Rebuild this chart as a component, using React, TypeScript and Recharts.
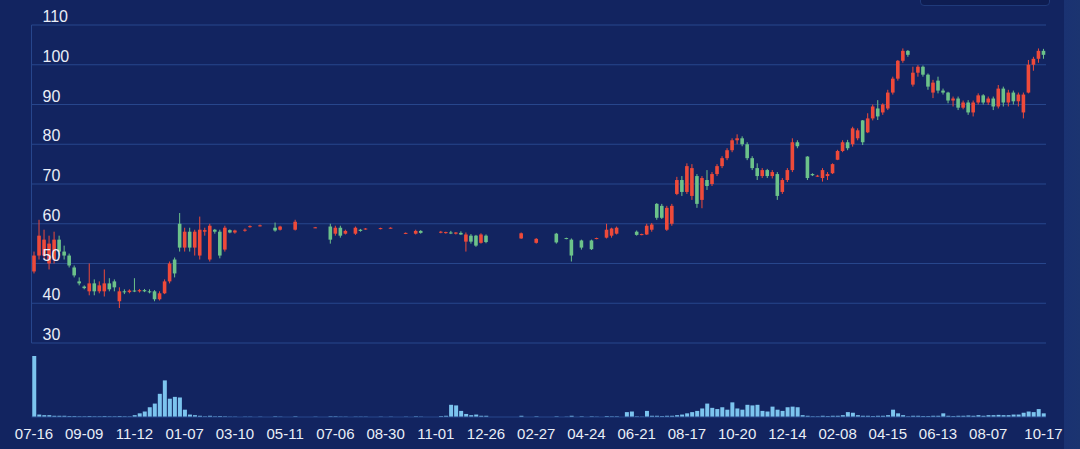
import React from "react";
import { ComposedChart, BarChart, Bar, XAxis, YAxis, CartesianGrid } from "recharts";

// x-axis labels and the candle index each one sits on
const tickIndex = [0, 10, 20, 30, 40, 50, 60, 70, 80, 90, 100, 110, 120, 130, 140, 150, 160, 170, 180, 190, 201];
const tickLabels = [
  "07-16", "09-09", "11-12", "01-07", "03-10", "05-11", "07-06", "08-30", "11-01", "12-26", "02-27",
  "04-24", "06-21", "08-17", "10-20", "12-14", "02-08", "04-15", "06-13", "08-07", "10-17",
];
const priceTicks = [30, 40, 50, 60, 70, 80, 90, 100, 110];

// OHLC, one entry per candle (null = no trade shown)
const opens = [
  48, 52, 52, 50, 51, 56, 53, 52, 49, 45.5,
  44.2, 43, 45, 43, 43, 45, 45.5, 40.5, 43, 42.8,
  43.2, 43, 43.3, 43, 43, 41, 42.5, 45.5, 51, 60,
  54, 58, 54, 52, 58, 51, 58.5, 58, 53.5, 58.4,
  57.8, null, 58.3, 59.3, null, 59.5, null, null, 59, 58.5,
  null, null, 58.5, null, null, null, 59, null, null, 59.3,
  57.5, 59, 57.5, null, 57.5, 58.5, 58.7, null, null, 58.8,
  null, 58.9, null, null, 57.6, null, 57.5, 58.2, null, null,
  null, 57.8, 57.7, 57.8, 57.5, 57.7, 55.5, 57, 57, 55.2,
  57, null, null, null, null, null, null, 56.3, null, null,
  55.2, null, null, null, 57.5, null, 56.4, 56, null, 55.8,
  null, 55.8, 56.3, null, 56.5, 57, 57.5, null, null, null,
  58, 57.3, 57.3, 58.5, 65, 64.5, 58.5, 60, 67.5, 71,
  68, 67, 72, 66, 71, 70, 72.5, 74.5, 76.5, 78.5,
  81, 81.5, 80, 76.5, 74, 72, 73.5, 72, 72.5, 68,
  71, 73.5, 80.5, null, 76.9, 72.5, 72, 71.5, 72, 72.7,
  76.1, 78.3, 80.5, 80, 81.5, 86, 83, 86.5, 89, 88,
  89, 93, 96.5, 101, 103.5, 95, 98, 99.5, 97.5, 93,
  96, 93.5, 93, 91, 91.5, 89.2, 90.5, 88, 90.5, 92.3,
  90.5, 91.5, 89.5, 94, 90.5, 93, 90.8, 88, 93, 100,
  101.5, 103.5,
];
const highs = [
  53, 61, 58.5, 57, 58, 57, 54.5, 52.5, 49.5, 46.5,
  44.5, 50, 46, 45.5, 48.5, 46.3, 46, 44, 43.5, 43.5,
  46.3, 43.6, 43.6, 43.5, 43.3, 43, 46, 50.5, 51.5, 62.7,
  59, 59, 58.5, 61.8, 59, 60, 58.7, 58.5, 59.5, 58.6,
  58.5, null, 58.8, 59.6, null, 59.8, null, null, 60.3, 59.5,
  null, null, 61, null, null, null, 59.2, null, null, 60,
  59.5, 59.5, 58.5, null, 59.3, 58.7, 58.9, null, null, 59,
  null, 59.1, null, null, 57.8, null, 58.5, 58.4, null, null,
  null, 58.2, 58, 58.2, 57.9, 58.1, 57.8, 57.4, 57.2, 57.6,
  57.3, null, null, null, null, null, null, 57.8, null, null,
  56.4, null, null, null, 57.7, null, 56.5, 56.3, null, 56,
  null, 56, 56.5, null, 60, 59, 59.3, null, null, null,
  58.3, 57.5, 60, 60.2, 65.2, 65, 64.5, 65, 71.8, 72,
  75.2, 75, 72.5, 72, 73.5, 73, 75, 77, 79, 81.5,
  82.5, 82, 80.5, 77, 75.2, 74, 73.8, 73.5, 73, 71.5,
  74, 81.5, 81, null, 77, 72.7, 72.3, 74, 73, 75.2,
  78.6, 81, 81.1, 84.4, 84, 86.1, 87.8, 90, 91.1, 90.3,
  93.7, 97, 101.2, 104.1, 103.7, 99.5, 99.9, 99.8, 97.8, 96.2,
  97, 94, 93.2, 92, 92, 91, 91.1, 91, 92.8, 92.6,
  92, 92, 94.9, 94.5, 93.7, 93.5, 93, 93, 101.2, 102,
  104.1, 104,
];
const lows = [
  47.5, 51, 51, 48.5, 50, 52, 51, 49, 46.5, 44.5,
  43.5, 42, 42, 42.5, 41.7, 43, 43, 38.8, 42.3, 42.5,
  42.8, 42.7, 42.8, 42.5, 40.5, 40.7, 42.3, 45, 46.5, 53,
  53, 53, 52, 51, 57, 50.5, 57.5, 51.3, 53, 57.6,
  57.5, null, 58, 59, null, 59.3, null, null, 58, 58.3,
  null, null, 58.3, null, null, null, 58.9, null, null, 55,
  57, 56.5, 57.3, null, 57.2, 58, 58.5, null, null, 58.6,
  null, 58.8, null, null, 57.4, null, 57.3, 57.5, null, null,
  null, 57.6, 57.5, 57.4, 57.3, 57.2, 53, 55, 54.2, 55,
  55.1, null, null, null, null, null, null, 56.2, null, null,
  55, null, null, null, 55, null, 56.1, 50.5, null, 53.5,
  null, 53.4, 56.1, null, 56.3, 56.5, 57.3, null, null, null,
  57, 57.1, 57.2, 58, 61, 61.2, 58.2, 59.5, 67.2, 67,
  67.5, 66, 64, 63.9, 68.5, 69.5, 72, 74, 76, 78,
  80, 79.5, 76, 73.5, 71, 71.5, 71.5, 71.4, 66, 67.5,
  70.5, 73, 79, null, 71, 72, 71.8, 70.6, 71, 72.5,
  76, 78, 78.5, 79.4, 81, 79.8, 82.8, 86, 86.1, 87.4,
  88.6, 92.5, 96, 100.5, 102, 94.5, 97, 97, 93.7, 91.6,
  92.8, 92.5, 90.3, 89.5, 88.6, 88.8, 87.4, 87, 90, 90,
  89.9, 88.6, 89, 89.5, 89.5, 90, 89.5, 86.5, 92.8, 98.5,
  100.5, 101.5,
];
const closes = [
  52, 57, 56, 55, 56, 53, 52, 49.5, 47, 45,
  43.8, 45, 43, 44.5, 45, 43.5, 44, 43, 42.8, 43.2,
  43, 43.3, 43, 42.8, 41, 42.5, 45.5, 50, 47.5, 54,
  58, 54, 58, 58.5, 58.4, 59.5, 58, 52, 59, 57.8,
  58.3, null, 58.5, 59.4, null, 59.6, null, null, 58.3, 59.3,
  null, null, 60.5, null, null, null, 59.1, null, null, 56,
  59, 57, 58.2, null, 59, 58.2, 58.8, null, null, 58.9,
  null, 59, null, null, 57.7, null, 58.2, 57.7, null, null,
  null, 58, 57.9, 57.6, 57.8, 57.3, 57.3, 55.5, 54.5, 57.3,
  55.4, null, null, null, null, null, null, 57.6, null, null,
  56.2, null, null, null, 55.3, null, 56.2, 52, null, 54,
  null, 53.6, 56.4, null, 58.5, 58.8, 59, null, null, null,
  57.2, 57.4, 59.5, 59.8, 61.5, 61.5, 64, 64.5, 71, 68,
  74.5, 74, 65, 71.5, 69.5, 72.5, 74.5, 76.5, 78.5, 81,
  81.5, 80, 76.5, 74, 72, 73.5, 72, 73, 67, 71,
  73.5, 80.5, 79.5, null, 71.5, 72.2, 72.1, 73.5, 72.5, 75,
  78.3, 80.5, 79, 84, 83.5, 80.5, 86.5, 89.5, 87, 90,
  93, 96.5, 101, 103.5, 102.5, 98, 99.5, 97.5, 94.5, 95.5,
  93.5, 93, 91, 91.5, 89.2, 90.5, 88, 90.5, 92.3, 90.5,
  91.5, 89.5, 94, 90.5, 93, 90.8, 92.5, 92.5, 100, 101.5,
  103.5, 102.5,
];
const volumes = [
  100, 4, 3, 3, 2, 2, 2, 1.5, 1.5, 1,
  1, 1.5, 1, 1, 1.5, 1, 1, 1.5, 1, 1,
  3, 6, 9, 16, 22, 38, 60, 30, 33, 32,
  12, 4, 3, 2, 1, 2, 1, 1.5, 1, 0.5,
  0.5, 0, 0.5, 0.5, 0, 0.5, 0, 0, 1, 0.5,
  0, 0, 1, 0, 0, 0, 0.5, 0, 0, 1,
  1, 0.5, 0.5, 0, 0.5, 0.5, 0.5, 0, 0, 0.5,
  0, 0.5, 0, 0, 0.5, 0, 1, 0.5, 0, 0,
  0, 1.5, 2, 20, 19, 10, 5, 3, 4, 2,
  2, 0, 0, 0, 0, 0, 0, 2, 0, 0,
  1, 0, 0, 0, 1, 0, 0.5, 2, 0, 1,
  0, 1, 0.5, 0, 1.5, 1, 1, 0, 8, 9,
  1, 0.5, 10, 2, 2, 1.5, 2, 2, 3, 4,
  6, 8, 10, 14, 22, 15, 13, 16, 12, 24,
  14, 12, 20, 19, 20, 10, 9, 17, 12, 10,
  16, 17, 16, 3, 2, 1, 1, 2, 1.5, 2,
  2, 3, 8, 7, 3, 2, 2, 1.5, 2, 2,
  3, 12, 6, 3, 1, 2, 2, 1.5, 1.5, 2,
  2, 6, 2, 1.5, 2, 2, 2.5, 2, 3, 2,
  3, 3, 3.5, 3, 3, 4, 4, 7, 9, 8,
  13, 6,
];

const BG = "#122460";
const GRID = "#27468c";
const TEXT = "#e9eef7";
const UP = "#ee4a3a";
const DOWN = "#6cc28a";
const VOL = "#7cc4ee";
const FONT = "'Liberation Sans', Arial, sans-serif";

const rows = opens.map((o, i) => ({ i, o, h: highs[i], l: lows[i], c: closes[i], v: volumes[i] }));

function Candle(props: any) {
  const { x, y, width, height, payload } = props;
  if (payload == null || payload.o == null) return null;
  const { o, h, l, c } = payload;
  const top = height < 0 ? y + height : y;
  const span = Math.abs(height);
  const k = h > l ? span / (h - l) : 0;
  const yo = top + (h - o) * k;
  const yc = top + (h - c) * k;
  const color = c >= o ? UP : DOWN;
  const cx = x + width / 2;
  const bw = 3.6;
  return (
    <g>
      <line x1={cx} x2={cx} y1={top} y2={top + Math.max(span, 1)} stroke={color} strokeWidth={1} />
      <rect x={cx - bw / 2} y={Math.min(yo, yc)} width={bw} height={Math.max(1, Math.abs(yo - yc))} fill={color} />
    </g>
  );
}

function PriceTick(props: any) {
  const { x, y, payload } = props;
  return (
    <text x={x + 3} y={y - 3} fill={TEXT} fontSize={16} fontFamily={FONT} textAnchor="start">
      {payload.value}
    </text>
  );
}

function DateTick(props: any) {
  const { x, y, payload } = props;
  const k = tickIndex.indexOf(payload.value);
  return (
    <text x={x} y={y + 14} fill={TEXT} fontSize={15} fontFamily={FONT} textAnchor="middle">
      {k >= 0 ? tickLabels[k] : ""}
    </text>
  );
}

export default function App() {
  return (
    <div style={{ position: "fixed", left: 0, top: 0, width: 1080, height: 449, background: BG, overflow: "hidden" }}>
      <div style={{ position: "absolute", left: 920, top: -6, width: 128, height: 10, borderRadius: 4, background: "#0e1d52", border: "1px solid #1f3a7a" }} />
      <div style={{ position: "absolute", left: 1064, top: 0, width: 16, height: 449, background: "linear-gradient(to right, #1a3272, #1b3470)" }} />
      <div style={{ position: "absolute", left: 0, top: 0 }}>
        <ComposedChart width={1080} height={345} data={rows} margin={{ top: 25, right: 34, bottom: 2, left: 31.5 }} barCategoryGap={0}>
          <CartesianGrid vertical={false} stroke={GRID} />
          <XAxis dataKey="i" type="category" hide />
          <YAxis
            domain={[30, 110]}
            ticks={priceTicks}
            interval={0}
            mirror
            axisLine={{ stroke: GRID }}
            tickLine={false}
            tick={<PriceTick />}
          />
          <Bar
            dataKey={(d: any) => (d.h == null ? null : [d.l, d.h])}
            shape={<Candle />}
            isAnimationActive={false}
          />
        </ComposedChart>
      </div>
      <div style={{ position: "absolute", left: 0, top: 345 }}>
        <BarChart width={1080} height={104} data={rows} margin={{ top: 11, right: 34, bottom: 0, left: 31.5 }} barCategoryGap="15%">
          <XAxis
            dataKey="i"
            type="category"
            ticks={tickIndex}
            interval={0}
            height={32}
            axisLine={{ stroke: GRID }}
            tickLine={false}
            tick={<DateTick />}
          />
          <YAxis domain={[0, 100]} hide />
          <Bar dataKey="v" fill={VOL} isAnimationActive={false} />
        </BarChart>
      </div>
    </div>
  );
}
